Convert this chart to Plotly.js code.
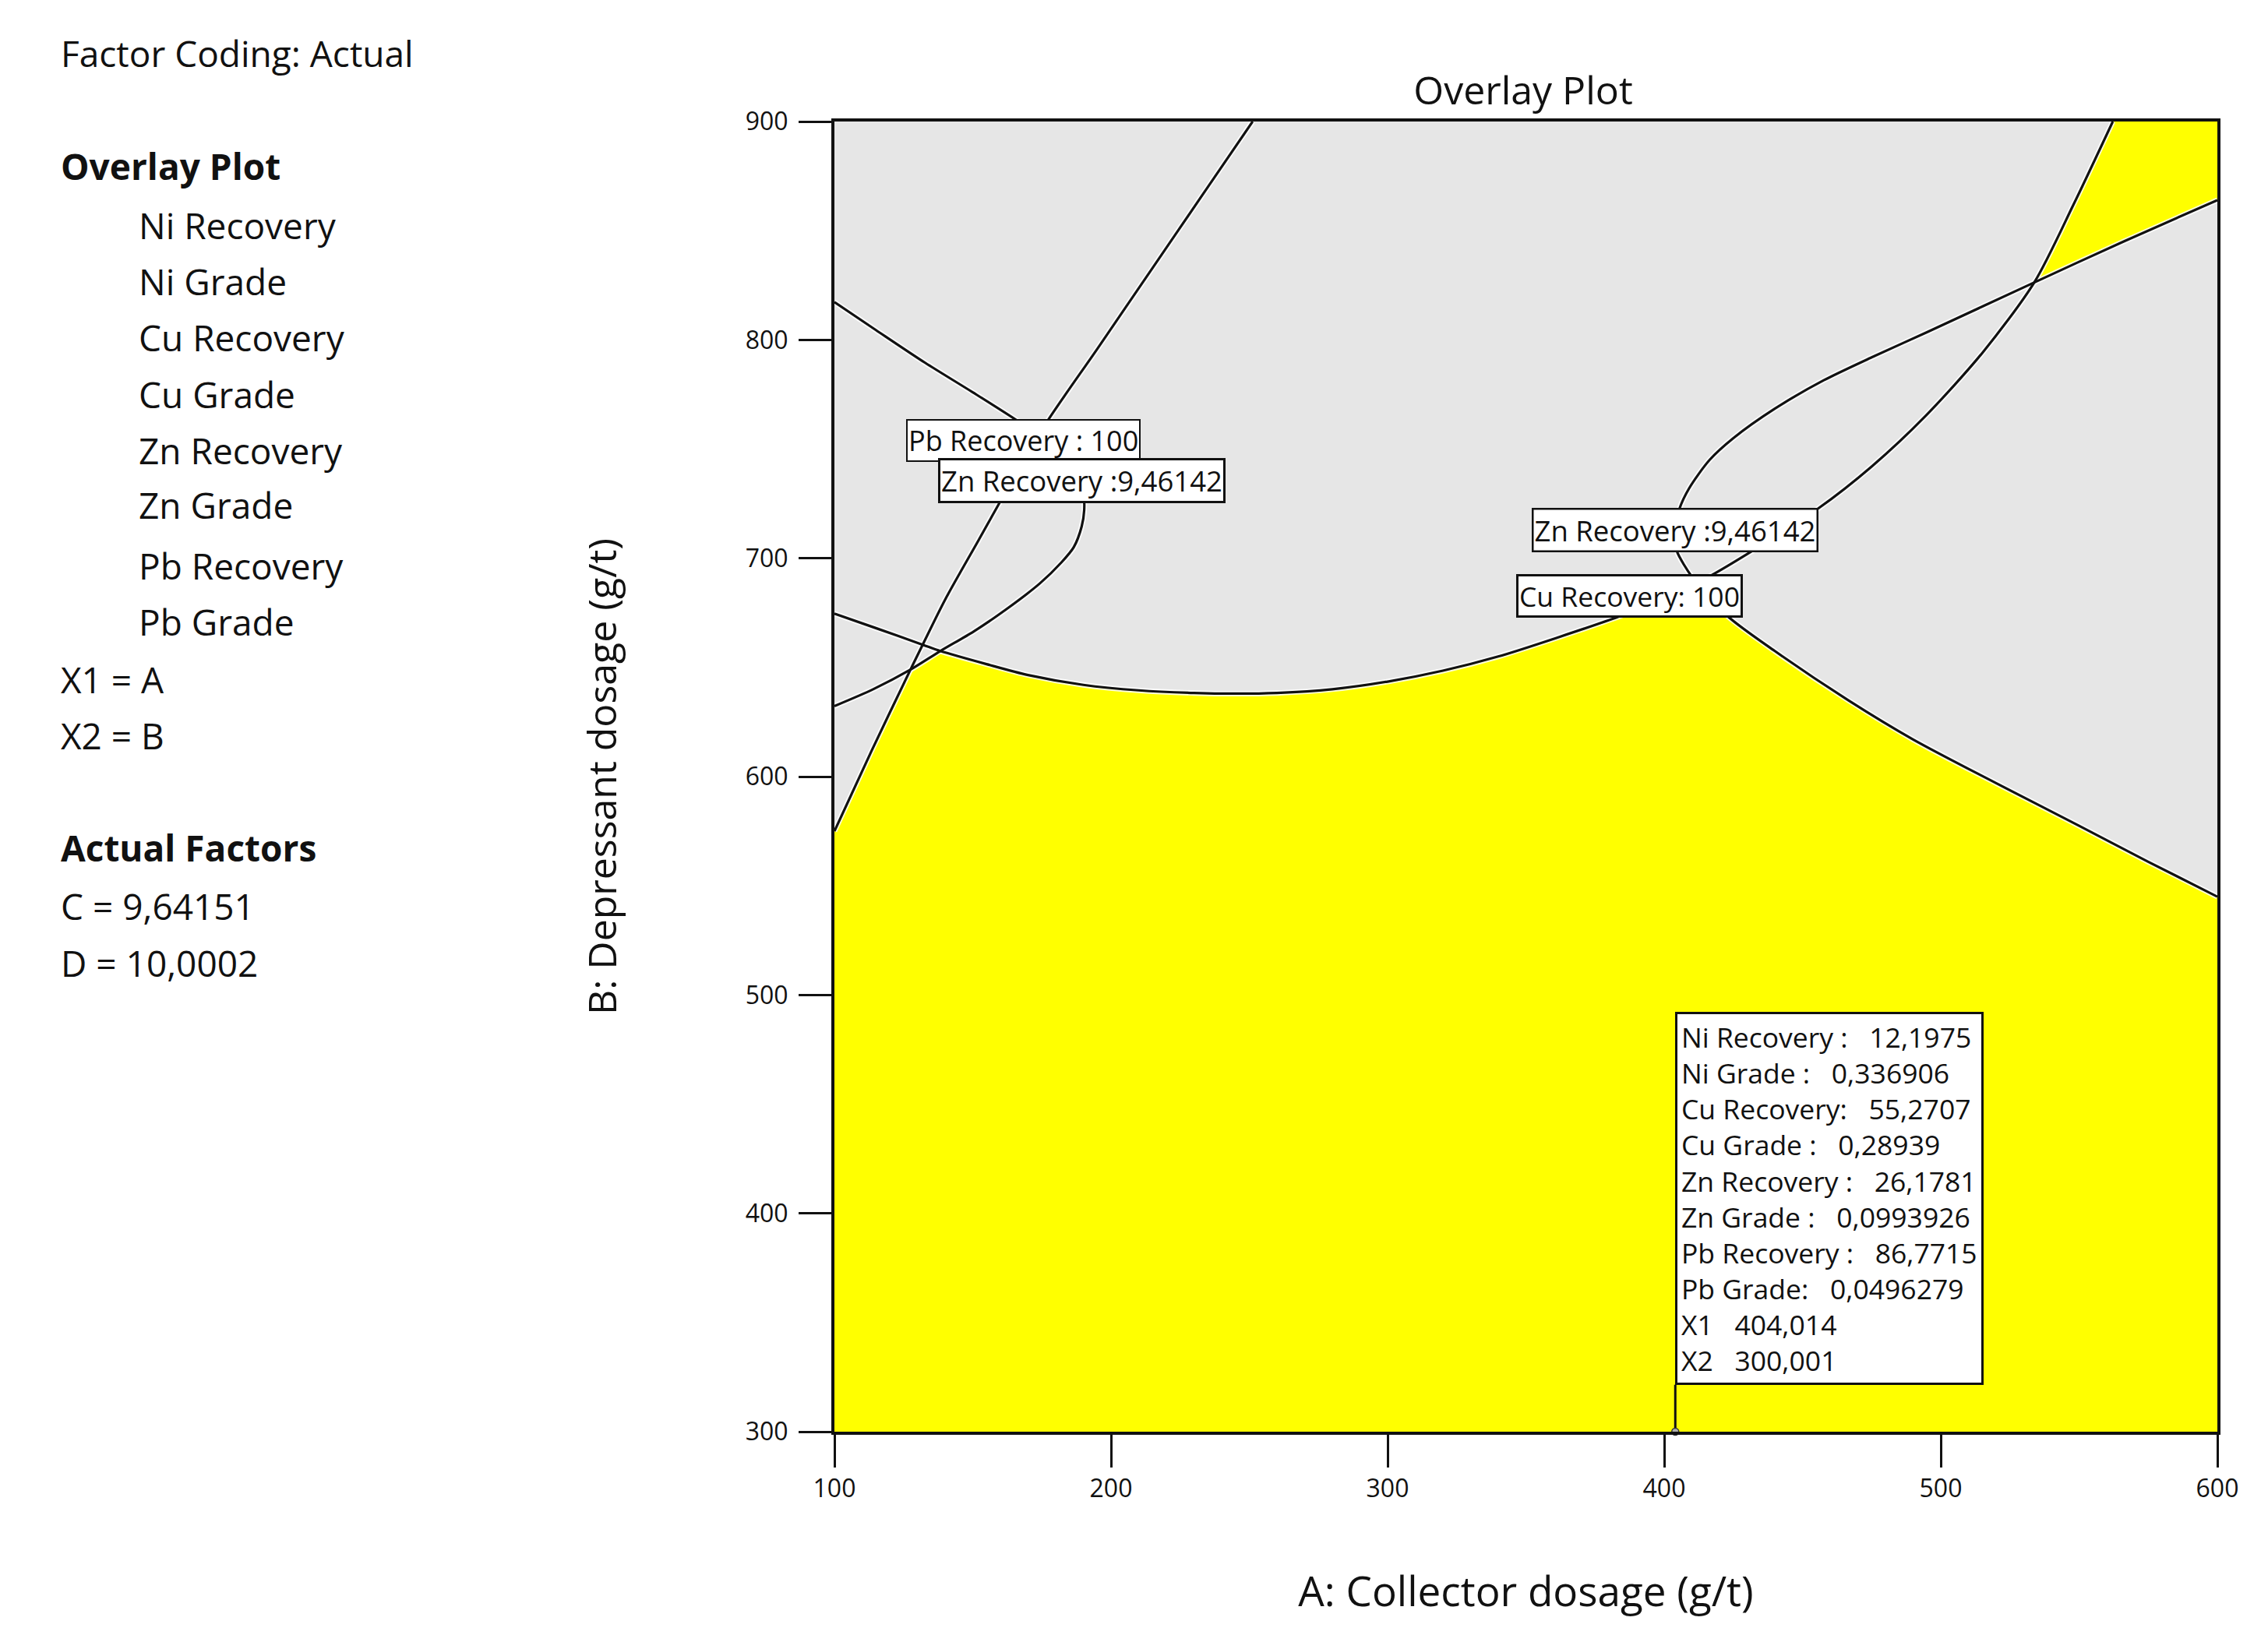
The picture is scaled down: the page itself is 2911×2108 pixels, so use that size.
<!DOCTYPE html>
<html><head><meta charset="utf-8">
<script src="https://cdn.plot.ly/plotly-3.0.1.min.js"></script>
<style>html,body{margin:0;padding:0;background:#fff;} #chart{width:2911px;height:2108px;}</style>
</head><body><div id="chart"></div>
<script>
// ---------------- data ----------------
const xTicks = [100, 200, 300, 400, 500, 600];
const yTicks = [300, 400, 500, 600, 700, 800, 900];

// Cu Recovery : 100 contour (A, B)
const cuRecA = [100, 115, 131.9, 138.3, 155, 170, 190, 210, 230, 245, 260, 280, 300, 320, 340, 361.7, 383.8, 398, 411.8, 416.4, 432.7, 455.5, 475, 494.6, 515, 533.8, 548, 562.2];
const cuRecB = [674.6, 668, 660.4, 657.5, 651.5, 646.5, 642, 639.5, 638.3, 638, 638.3, 640, 643.5, 648.5, 655, 663.8, 673.4, 680.8, 688.9, 691.7, 704, 722.6, 742, 765.3, 794, 826.3, 862, 900];

// Zn Recovery : 9,46142 contour, right branch
const znRightA = [600, 566, 533.8, 495, 475, 457.7, 440, 425, 416.4, 409, 405.5, 403.8, 404.5, 409.9, 411.8, 423, 440, 466.5, 490, 520, 550, 575, 600];
const znRightB = [864, 845, 826.3, 803.5, 792, 781.5, 768.5, 755, 745, 732, 722.6, 713, 703.5, 691.7, 688.9, 673.4, 657.5, 635, 617, 597, 577.5, 561, 545];

// Zn Recovery : 9,46142 contour, left branch
const znLeftA = [100, 114, 127.5, 138.3, 150.4, 162, 174.3, 182, 186.5, 189.4, 190.3, 190, 188, 184, 178, 172, 166.8, 150, 132.8, 115, 100];
const znLeftB = [632.3, 640, 649, 657.5, 666.5, 676.5, 688.5, 698, 705, 714.6, 722, 730, 738, 744.5, 752, 757.5, 762.4, 776, 789.5, 804.5, 817.3];

// Pb Recovery : 100 contour
const pbRecA = [100, 113.5, 127.5, 131.9, 140, 152, 164, 176.8, 195, 215, 235, 251.2];
const pbRecB = [575, 612, 649, 660.4, 681, 708, 735, 762.4, 795.8, 832.9, 870, 900];

// flag point
const optimumA = [404.014];
const optimumB = [300.001];

const contourLabels = ["Pb Recovery : 100", "Zn Recovery :9,46142", "Zn Recovery :9,46142", "Cu Recovery: 100"];
const contourLabelA = [168.3, 189.3, 403.9, 387.6];
const contourLabelB = [754, 735.4, 712.8, 682.8];

const infoNames = ["Ni Recovery :", "Ni Grade :", "Cu Recovery:", "Cu Grade :", "Zn Recovery :", "Zn Grade :", "Pb Recovery :", "Pb Grade:", "X1", "X2"];
const infoValues = ["12,1975", "0,336906", "55,2707", "0,28939", "26,1781", "0,0993926", "86,7715", "0,0496279", "404,014", "300,001"];

const sideTexts = ["Factor Coding: Actual", "Overlay Plot", "Ni Recovery", "Ni Grade", "Cu Recovery", "Cu Grade", "Zn Recovery", "Zn Grade", "Pb Recovery", "Pb Grade", "X1 = A", "X2 = B", "Actual Factors", "C = 9,64151", "D = 10,0002"];

// ---------------- layout helpers ----------------
const FONT = '"Open Sans", "Noto Sans", "DejaVu Sans", sans-serif';
const W = 2911, H = 2108;
const M = {l: 1071, r: 65, t: 156, b: 270};
const PW = W - M.l - M.r, PH = H - M.t - M.b;
const px2x = px => (px - M.l) / PW;
const py2y = py => (H - M.b - py) / PH;

function seg(a, b, i, j) {
  const xs = [], ys = [];
  const st = i <= j ? 1 : -1;
  for (let k = i; k !== j + st; k += st) { xs.push(a[k]); ys.push(b[k]); }
  return [xs, ys];
}
function join(parts) {
  const xs = [], ys = [];
  parts.forEach(p => { xs.push(...p[0]); ys.push(...p[1]); });
  return [xs, ys];
}
const iq = v => znRightA.indexOf(v);
const ip = v => cuRecA.indexOf(v);
const iz = v => znLeftA.indexOf(v);
const is = v => pbRecA.indexOf(v);

// feasible region (yellow), built from the contour arrays
const mainReg = join([
  [[xTicks[0], xTicks[xTicks.length - 1]], [yTicks[0], yTicks[0]]],
  seg(znRightA, znRightB, znRightA.length - 1, iq(411.8)),
  seg(cuRecA, cuRecB, ip(411.8), ip(138.3)),
  seg(znLeftA, znLeftB, iz(138.3), iz(127.5)),
  seg(pbRecA, pbRecB, is(127.5), 0)
]);
const cornerReg = join([
  [[xTicks[xTicks.length - 1]], [yTicks[yTicks.length - 1]]],
  seg(znRightA, znRightB, 0, iq(533.8)),
  seg(cuRecA, cuRecB, ip(533.8), cuRecA.length - 1)
]);

const traces = [];
[mainReg, cornerReg].forEach(r => traces.push({
  x: r[0], y: r[1], type: 'scatter', mode: 'lines', fill: 'toself',
  fillcolor: '#ffff00', line: {width: 0, color: '#ffff00'}, hoverinfo: 'skip', showlegend: false
}));
const curves = [[cuRecA, cuRecB], [znRightA, znRightB], [znLeftA, znLeftB], [pbRecA, pbRecB]];
curves.forEach(c => traces.push({
  x: c[0], y: c[1], type: 'scatter', mode: 'lines',
  line: {color: 'rgba(255,255,255,0.85)', width: 7, shape: 'spline', smoothing: 0.8}, hoverinfo: 'skip', showlegend: false
}));
curves.forEach(c => traces.push({
  x: c[0], y: c[1], type: 'scatter', mode: 'lines',
  line: {color: '#111111', width: 3.2, shape: 'spline', smoothing: 0.8}, hoverinfo: 'skip', showlegend: false
}));
const infoBoxBottom = 321.5;
traces.push({
  x: [optimumA[0], optimumA[0]], y: [optimumB[0], infoBoxBottom], type: 'scatter', mode: 'lines',
  line: {color: '#111111', width: 3}, cliponaxis: false, hoverinfo: 'skip', showlegend: false
});
traces.push({
  x: optimumA, y: optimumB, type: 'scatter', mode: 'markers', cliponaxis: false,
  marker: {symbol: 'circle', size: 9, color: '#b0b0b0', line: {color: '#333', width: 1.5}},
  hoverinfo: 'skip', showlegend: false
});

// ---------------- annotations ----------------
const ann = [];
const borderW = [2, 3, 2.5, 3];
const labelFS = [36, 36.5, 36.5, 35.5];
contourLabels.forEach((t, i) => ann.push({
  x: contourLabelA[i], y: contourLabelB[i], xref: 'x', yref: 'y', text: t, showarrow: false,
  xanchor: 'center', yanchor: 'middle', bgcolor: '#ffffff', bordercolor: '#111111',
  borderwidth: borderW[i], borderpad: 1, font: {family: FONT, size: labelFS[i], color: '#111'}
}));
const nb = n => '\u00a0'.repeat(n);
const infoText = infoNames.map((n, i) => n + nb(3) + infoValues[i]).join('<br>');
ann.push({
  x: optimumA[0], y: infoBoxBottom, xref: 'x', yref: 'y', text: infoText, showarrow: false,
  xanchor: 'left', yanchor: 'bottom', align: 'left', bgcolor: '#ffffff', bordercolor: '#111111',
  borderwidth: 3, borderpad: 5, font: {family: FONT, size: 35.5, color: '#111'}
});
const sideBase = [85, 230, 306, 378, 450, 523, 595, 665, 743, 815, 889, 961, 1105, 1180, 1253];
const sideIndent = [0, 0, 1, 1, 1, 1, 1, 1, 1, 1, 0, 0, 0, 0, 0];
const sideBold = [0, 1, 0, 0, 0, 0, 0, 0, 0, 0, 0, 0, 1, 0, 0];
const SFS = 46;
sideTexts.forEach((t, i) => ann.push({
  x: px2x(sideIndent[i] ? 176 : 76), y: py2y(sideBase[i] - SFS * 0.36), xref: 'paper', yref: 'paper',
  text: sideBold[i] ? '<b>' + t + '</b>' : t, showarrow: false, xanchor: 'left', yanchor: 'middle',
  font: {family: FONT, size: SFS, color: '#111'}
}));

const axisCommon = {
  showline: true, linewidth: 4, linecolor: '#111', mirror: true,
  ticks: 'outside', ticklen: 42, tickwidth: 3, tickcolor: '#111',
  showgrid: false, zeroline: false, automargin: false, fixedrange: true,
  tickfont: {family: FONT, size: 32, color: '#111'}
};
const layout = {
  width: W, height: H, margin: M,
  paper_bgcolor: '#ffffff', plot_bgcolor: '#e6e6e6',
  showlegend: false,
  title: {text: 'Overlay Plot', font: {family: FONT, size: 50, color: '#111'},
          x: px2x(1955), xref: 'paper', xanchor: 'center', y: 1 - 116 / H, yref: 'container', yanchor: 'middle'},
  xaxis: Object.assign({}, axisCommon, {
    range: [100, 600], tickvals: xTicks, ticktext: xTicks.map(String),
    title: {text: 'A: Collector dosage (g/t)', font: {family: FONT, size: 53, color: '#111'}, standoff: 95}
  }),
  yaxis: Object.assign({}, axisCommon, {
    range: [300, 900], tickvals: yTicks, ticktext: yTicks.map(String), ticklabelstandoff: 7,
    title: {text: 'B: Depressant dosage (g/t)', font: {family: FONT, size: 50, color: '#111'}, standoff: 150}
  }),
  annotations: ann
};
Plotly.newPlot('chart', traces, layout, {staticPlot: true, displayModeBar: false});
</script></body></html>
